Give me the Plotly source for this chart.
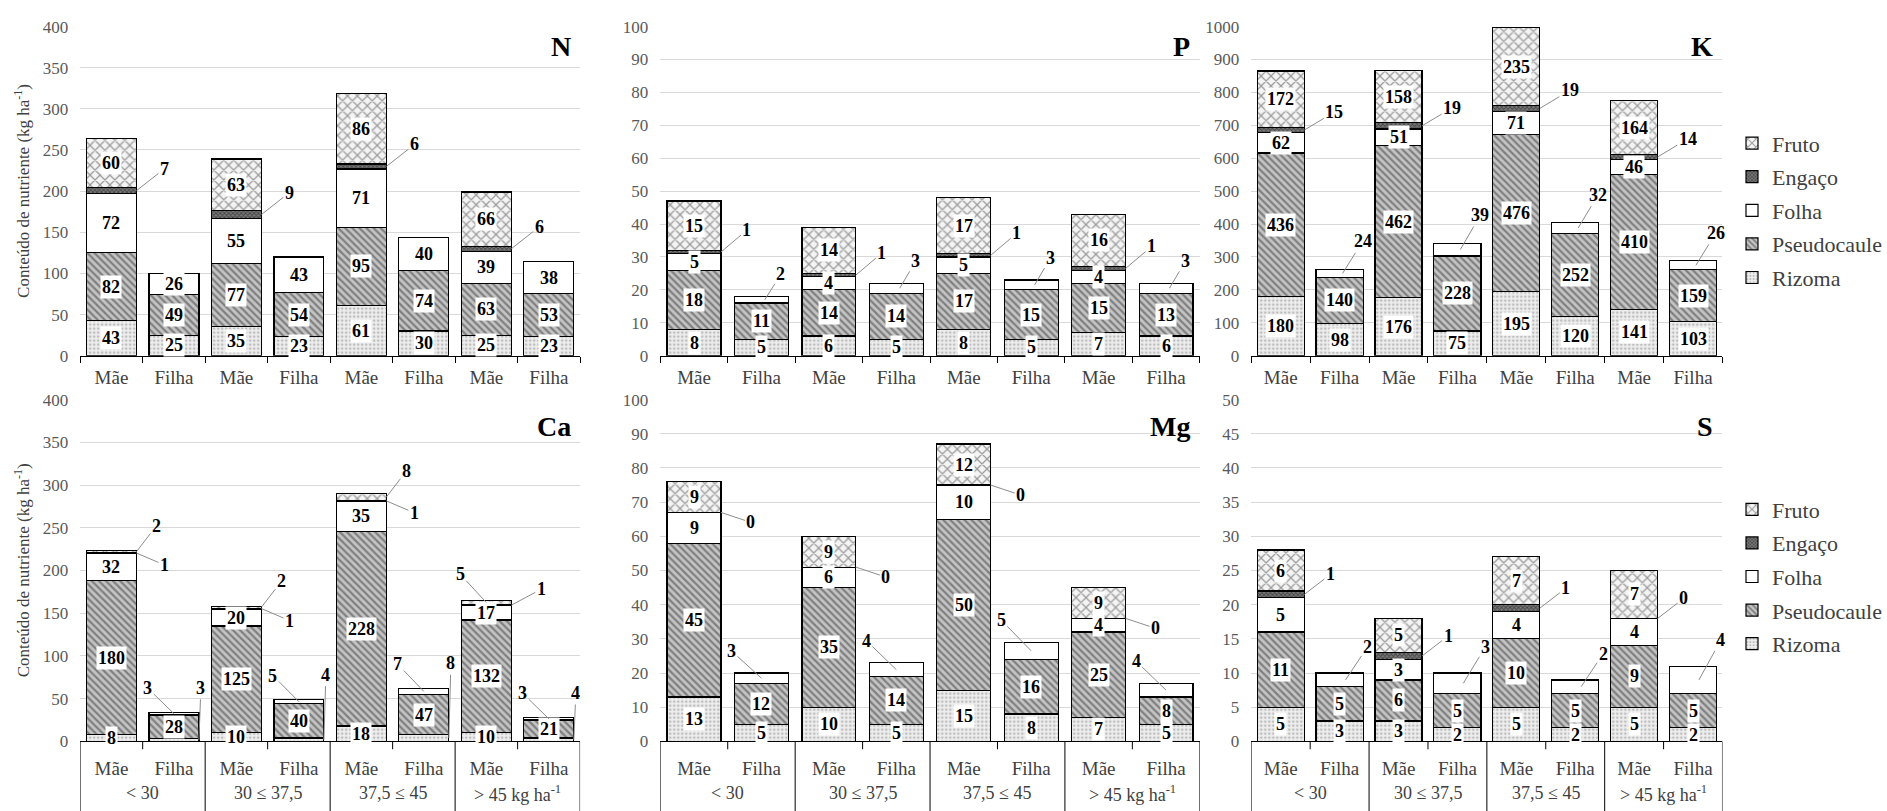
import plotly.graph_objects as go

# ---------------- data ----------------
bar_labels = ["Mãe", "Filha", "Mãe", "Filha", "Mãe", "Filha", "Mãe", "Filha"]
group_labels = ["&lt; 30", "30 ≤ 37,5", "37,5 ≤ 45", "&gt; 45 kg ha<sup>-1</sup>"]
series_names = ["Rizoma", "Pseudocaule", "Folha", "Engaço", "Fruto"]

N_rizoma = [43, 25, 35, 23, 61, 30, 25, 23]
N_pseudocaule = [82, 49, 77, 54, 95, 74, 63, 53]
N_folha = [72, 26, 55, 43, 71, 40, 39, 38]
N_engaco = [7, None, 9, None, 6, None, 6, None]
N_fruto = [60, None, 63, None, 86, None, 66, None]

P_rizoma = [8, 5, 6, 5, 8, 5, 7, 6]
P_pseudocaule = [18, 11, 14, 14, 17, 15, 15, 13]
P_folha = [5, 2, 4, 3, 5, 3, 4, 3]
P_engaco = [1, None, 1, None, 1, None, 1, None]
P_fruto = [15, None, 14, None, 17, None, 16, None]

K_rizoma = [180, 98, 176, 75, 195, 120, 141, 103]
K_pseudocaule = [436, 140, 462, 228, 476, 252, 410, 159]
K_folha = [62, 24, 51, 39, 71, 32, 46, 26]
K_engaco = [15, None, 19, None, 19, None, 14, None]
K_fruto = [172, None, 158, None, 235, None, 164, None]

Ca_rizoma = [8, 3, 10, 4, 18, 8, 10, 4]
Ca_pseudocaule = [180, 28, 125, 40, 228, 47, 132, 21]
Ca_folha = [32, 3, 20, 5, 35, 7, 17, 3]
Ca_engaco = [1, None, 1, None, 1, None, 1, None]
Ca_fruto = [2, None, 2, None, 8, None, 5, None]

Mg_rizoma = [13, 5, 10, 5, 15, 8, 7, 5]
Mg_pseudocaule = [45, 12, 35, 14, 50, 16, 25, 8]
Mg_folha = [9, 3, 6, 4, 10, 5, 4, 4]
Mg_engaco = [0, None, 0, None, 0, None, 0, None]
Mg_fruto = [9, None, 9, None, 12, None, 9, None]

S_rizoma = [5, 3, 3, 2, 5, 2, 5, 2]
S_pseudocaule = [11, 5, 6, 5, 10, 5, 9, 5]
S_folha = [5, 2, 3, 3, 4, 2, 4, 4]
S_engaco = [1, None, 1, None, 1, None, 0, None]
S_fruto = [6, None, 5, None, 7, None, 7, None]

panels = [
    ("N", [N_rizoma, N_pseudocaule, N_folha, N_engaco, N_fruto], 400, 50),
    ("P", [P_rizoma, P_pseudocaule, P_folha, P_engaco, P_fruto], 100, 10),
    ("K", [K_rizoma, K_pseudocaule, K_folha, K_engaco, K_fruto], 1000, 100),
    ("Ca", [Ca_rizoma, Ca_pseudocaule, Ca_folha, Ca_engaco, Ca_fruto], 400, 50),
    ("Mg", [Mg_rizoma, Mg_pseudocaule, Mg_folha, Mg_engaco, Mg_fruto], 100, 10),
    ("S", [S_rizoma, S_pseudocaule, S_folha, S_engaco, S_fruto], 50, 5),
]

# ---------------- style ----------------
W, H = 1887, 811
FONT = "Liberation Serif, Times New Roman, serif"
x_domains = [(81, 586), (667, 1212), (1264, 1740)]
y_domains = [(355, 18), (750, 400)]   # (zero pixel, top pixel) per row

styles = {
    "Rizoma": dict(color="#efefef", pattern=dict(shape=".", fgcolor="#8a8a8a", bgcolor="#efefef", size=4, solidity=0.35)),
    "Pseudocaule": dict(color="#bdbdbd", pattern=dict(shape="\\", fgcolor="#3a3a3a", bgcolor="#c4c4c4", size=5, solidity=0.45)),
    "Folha": dict(color="white"),
    "Engaço": dict(color="#777777", pattern=dict(shape="x", fgcolor="#111111", bgcolor="#7a7a7a", size=3, solidity=0.5)),
    "Fruto": dict(color="#f2f2f2", pattern=dict(shape="x", fgcolor="#444444", bgcolor="#f4f4f4", size=7, solidity=0.33)),
}
legend_rank = {"Fruto": 1, "Engaço": 2, "Folha": 3, "Pseudocaule": 4, "Rizoma": 5}

callouts = {
    "N": {"Engaço": dict(anchor="right", dx=28, dy=-22)},
    "P": {"Engaço": dict(anchor="right", dx=26, dy=-22),
          "Folha": dict(anchor="top", xo=0.05, dx=16, dy=-22)},
    "K": {"Engaço": dict(anchor="right", dx=30, dy=-18),
          "Folha": dict(anchor="top", xo=0.05, dx=20, dy=-28)},
    "Ca": {"Fruto": dict(anchor="right", dx=20, dy=-26),
           "Engaço": dict(anchor="right", dx=28, dy=12),
           "Folha": dict(anchor="top", xo=0.0, dx=-26, dy=-24),
           "Rizoma": dict(anchor="topright", dx=2, dy=-24)},
    "Mg": {"Engaço": dict(anchor="right", dx=30, dy=10),
           "Folha": dict(anchor="top", xo=0.0, dx=-30, dy=-22)},
    "S": {"Engaço": dict(anchor="right", dx=26, dy=-20),
          "Folha": dict(anchor="top", xo=0.1, dx=22, dy=-26)},
}
overrides = {
    ("Ca", "Fruto", 6): dict(anchor="top", xo=0.0, dx=-26, dy=-26),
    ("Ca", "Engaço", 6): dict(anchor="right", dx=30, dy=-16),
}

fig = go.Figure()
xpos = list(range(len(bar_labels)))
annotations = []
shapes = []

for k, (name, values, ymax, dtick) in enumerate(panels, start=1):
    row, col = divmod(k - 1, 3)
    xa = "x" if k == 1 else f"x{k}"
    ya = "y" if k == 1 else f"y{k}"
    zero_px, top_px = y_domains[row]
    plot_h = zero_px - top_px
    ppu = plot_h / ymax
    legend_name = "legend" if row == 0 else "legend2"
    for s_idx, sname in enumerate(series_names):
        st = styles[sname]
        marker = dict(color=st["color"], line=dict(color="black", width=1.2))
        if "pattern" in st:
            marker["pattern"] = st["pattern"]
        fig.add_trace(go.Bar(
            x=xpos, y=values[s_idx], name=sname, marker=marker,
            xaxis=xa, yaxis=ya, width=0.8,
            showlegend=(col == 2), legend=legend_name,
            legendgroup=f"{legend_name}-{sname}", legendrank=legend_rank[sname],
            hoverinfo="skip",
        ))
    for i in xpos:
        base = 0
        bar_top = sum(v[i] for v in values if v[i] is not None)
        for s_idx, sname in enumerate(series_names):
            v = values[s_idx][i]
            if v is None:
                continue
            mid = base + v / 2.0
            base += v
            spec = overrides.get((name, sname, i), callouts[name].get(sname))
            is_filha = bar_labels[i] == "Filha"
            use_callout = spec is not None and (
                (sname in ("Engaço", "Fruto") and not is_filha) or
                (sname in ("Folha", "Rizoma") and is_filha))
            txt = f"<b>{v}</b>"
            if not use_callout:
                annotations.append(dict(
                    x=i, y=mid, xref=xa, yref=ya, text=txt, showarrow=False,
                    bgcolor="white", borderpad=1,
                    font=dict(family=FONT, size=18, color="black")))
            else:
                if spec["anchor"] == "right":
                    px, py = i + 0.4, mid
                    ax, ay = spec["dx"], spec["dy"]
                elif spec["anchor"] == "top":
                    px, py = i + spec["xo"], mid
                    ax = spec["dx"]
                    ay = -(bar_top - mid) * ppu + spec["dy"]
                else:
                    px, py = i + 0.4, mid
                    ax = spec["dx"]
                    ay = -(bar_top - mid) * ppu + spec["dy"]
                annotations.append(dict(
                    x=px, y=py, xref=xa, yref=ya, text=txt, showarrow=True,
                    ax=ax, ay=ay, arrowhead=0, arrowwidth=1, arrowcolor="#8c8c8c",
                    standoff=0, startstandoff=0,
                    font=dict(family=FONT, size=18, color="black")))
    annotations.append(dict(
        x=0.985, y=0.94 if row == 0 else 0.92, xref=f"{xa} domain", yref=f"{ya} domain",
        text=f"<b>{name}</b>", showarrow=False, xanchor="right", yanchor="middle",
        font=dict(family=FONT, size=28, color="black")))

    xd = x_domains[col]
    key = "" if k == 1 else str(k)
    fig.layout[f"xaxis{key}"] = dict(
        domain=[xd[0] / W, xd[1] / W], anchor=ya, range=[-0.5, 7.5],
        tickmode="array", tickvals=xpos, ticktext=bar_labels, ticks="",
        showline=True, linecolor="black", linewidth=1.2, showgrid=False, zeroline=False,
        tickfont=dict(family=FONT, size=19, color="#404040"),
        ticklabelstandoff=4 if row == 0 else 10,
        minor=dict(ticks="outside", tick0=-0.5, dtick=1, ticklen=6, tickcolor="black", tickwidth=1)
        if row == 0 else dict(ticks=""),
    )
    fig.layout[f"yaxis{key}"] = dict(
        domain=[1 - zero_px / H, 1 - top_px / H], anchor=xa, range=[0, ymax], dtick=dtick,
        showgrid=True, gridcolor="#d9d9d9", gridwidth=1, zeroline=False, showline=False,
        ticks="", tickfont=dict(family=FONT, size=17, color="#595959"), ticklabelstandoff=11,
    )
    if row == 1:
        for b in [-0.5, 1.5, 3.5, 5.5, 7.5]:
            shapes.append(dict(type="line", xref=xa, yref=f"{ya} domain", x0=b, x1=b,
                               y0=0, y1=-0.3, line=dict(color="black", width=1)))
        for b in [0.5, 2.5, 4.5, 6.5]:
            shapes.append(dict(type="line", xref=xa, yref=f"{ya} domain", x0=b, x1=b,
                               y0=0, y1=-8 / plot_h, line=dict(color="black", width=1)))
        for g, gl in enumerate(group_labels):
            annotations.append(dict(
                x=2 * g + 0.5, y=(H - 803) / H, xref=xa, yref="paper", text=gl,
                showarrow=False, xanchor="center", yanchor="middle",
                font=dict(family=FONT, size=18, color="#404040")))
    if col == 0:
        annotations.append(dict(
            x=22 / W, y=1 - (zero_px + top_px) / 2 / H, xref="paper", yref="paper",
            text="Conteúdo de nutriente (kg ha<sup>-1</sup>)", textangle=-90, showarrow=False,
            xanchor="center", yanchor="middle",
            font=dict(family=FONT, size=17, color="#404040")))

legend_common = dict(
    xanchor="left", yanchor="top", bgcolor="rgba(0,0,0,0)",
    font=dict(family=FONT, size=22, color="#404040"),
    traceorder="grouped", tracegroupgap=2, itemwidth=30,
)
fig.update_layout(
    width=W, height=H, margin=dict(l=0, r=0, t=0, b=0),
    font=dict(family=FONT, color="#404040"),
    paper_bgcolor="white", plot_bgcolor="white",
    barmode="stack", bargap=0.2,
    annotations=annotations, shapes=shapes,
    legend=dict(x=1750 / W, y=1 - 116 / H, **legend_common),
    legend2=dict(x=1750 / W, y=1 - 491 / H, **legend_common),
)

fig.write_html("out.html", config={"displayModeBar": False},
               post_script="document.body.style.margin='0';document.body.style.overflow='hidden';")
